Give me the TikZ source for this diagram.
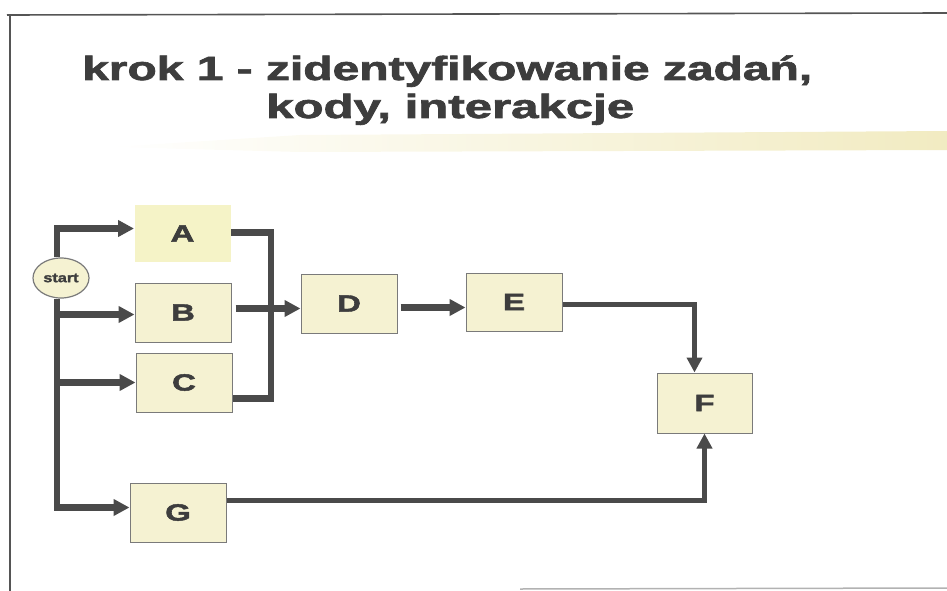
\documentclass[tikz,border=0pt]{standalone}
\usepackage{fontspec}
\usepackage{graphicx}
\usetikzlibrary{arrows.meta,shapes.geometric}
\newfontfamily\hb{Liberation Sans}[FakeBold=1.8]
\definecolor{ink}{HTML}{3D3D3D}
\definecolor{wire}{HTML}{4A4A4A}
\definecolor{boxfill}{HTML}{F5F2D2}
\definecolor{boxline}{HTML}{7A7A7A}
\definecolor{brushY}{HTML}{EEE6B2}
\definecolor{frameC}{HTML}{555555}
\tikzset{
  stepbox/.style={draw=boxline, line width=1pt, fill=boxfill, minimum width=96pt, minimum height=59pt, inner sep=0pt,
    font=\hb\bfseries\fontsize{23.5}{23.5}\selectfont, text=ink},
  wline/.style={draw=wire, line width=6.5pt, line join=miter},
  warr/.style={wline, -{Triangle[length=16pt,width=16pt]}},
  thinarr/.style={draw=wire, line width=5pt, line join=miter, -{Triangle[length=15pt,width=15pt]}},
  titletext/.style={anchor=base west, inner sep=0pt, text=ink, font=\hb\bfseries\fontsize{33.5}{33.5}\selectfont},
}
\newcommand{\wideL}[1]{\scalebox{1.4}[1]{#1}}
\begin{document}
\begin{tikzpicture}[x=1pt,y=-1pt]
\useasboundingbox (0,0) rectangle (947,591);
% frame
\draw[frameC, line width=1.6pt] (7,15) -- (947,13);
\draw[frameC, line width=1.6pt] (10,15) -- (10,591);
\draw[gray!60, line width=1.5pt] (520,589) -- (947,588);
% brush under title
\shade[left color=white, middle color=brushY, right color=brushY!80] (110,147) -- (300,135) -- (947,131) -- (947,150) -- (300,152) -- cycle;
% title
\node[titletext] (t1) at (82,80) {\resizebox{730pt}{\height}{krok 1 - zidentyfikowanie zadań,}};
\node[titletext] (t2) at (266,118) {\resizebox{368pt}{\height}{kody, interakcje}};
% nodes
\node[stepbox, draw=none, fill=boxfill!95!yellow, minimum height=57pt] (A) at (182.5,233.5) {\wideL{A}};
\node[stepbox] (B) at (183,312.5) {\wideL{B}};
\node[stepbox] (C) at (184,382.5) {\wideL{C}};
\node[stepbox] (D) at (349,303.5) {\wideL{D}};
\node[stepbox, minimum height=58pt] (E) at (514,302) {\wideL{E}};
\node[stepbox, minimum width=95pt, minimum height=60pt] (F) at (704.5,403) {\wideL{F}};
\node[stepbox] (G) at (178,512.5) {\wideL{G}};
\node[ellipse, draw=boxline, line width=1.2pt, fill=boxfill, minimum width=56pt, minimum height=40pt, inner sep=0pt,
  font=\hb\bfseries\fontsize{13}{13}\selectfont, text=ink] (start) at (61,278) {\scalebox{1.25}[1]{start}};
% connectors
\draw[warr] ([xshift=-4pt]start.north) |- ([yshift=5pt]A.west);
\draw[warr] ([xshift=-4pt]start.south) |- ([yshift=5pt]G.west);
\draw[warr] ([xshift=-4pt,yshift=-2pt]start.south |- B.west) -- ([yshift=-2pt]B.west);
\draw[warr] ([xshift=-4pt]start.south |- C.west) -- (C.west);
\draw[wline] ([yshift=1pt]A.east) -- ++(40,0) |- ([yshift=-16pt]C.east);
\draw[warr] ([xshift=4pt,yshift=4pt]B.east) -- ([yshift=4pt]B.east -| D.west);
\draw[warr] ([xshift=3pt,yshift=-4pt]D.east) -- ([yshift=-4pt]D.east -| E.west);
\draw[thinarr] ([yshift=-2pt]E.east) -| ([xshift=-10pt]F.north);
\draw[thinarr] ([yshift=12pt]G.east) -| (F.south);
\end{tikzpicture}
\end{document}
